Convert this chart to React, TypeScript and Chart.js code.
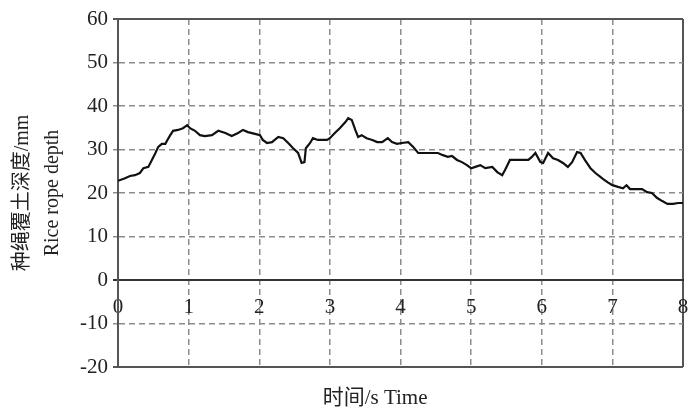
import React, { useEffect, useRef } from 'react';
import { Chart, registerables } from 'chart.js';

Chart.register(...registerables);

const timeS = [0, 0.1, 0.17, 0.24, 0.31, 0.36, 0.43, 0.48, 0.53, 0.57, 0.62, 0.67, 0.7, 0.74, 0.78, 0.85, 0.92, 0.98, 1.02, 1.09, 1.16, 1.23, 1.33, 1.42, 1.52, 1.61, 1.7, 1.77, 1.84, 1.94, 2.01, 2.05, 2.11, 2.18, 2.27, 2.34, 2.41, 2.48, 2.55, 2.6, 2.64, 2.66, 2.72, 2.76, 2.83, 2.96, 3.0, 3.07, 3.14, 3.22, 3.26, 3.31, 3.36, 3.4, 3.45, 3.52, 3.6, 3.67, 3.74, 3.82, 3.88, 3.95, 4.02, 4.11, 4.18, 4.25, 4.3, 4.53, 4.6, 4.67, 4.73, 4.8, 4.87, 4.94, 5.0, 5.06, 5.13, 5.2, 5.3, 5.37, 5.44, 5.48, 5.55, 5.81, 5.86, 5.91, 5.98, 6.02, 6.09, 6.16, 6.23, 6.3, 6.37, 6.43, 6.5, 6.55, 6.61, 6.69, 6.76, 6.83, 6.87, 6.93, 7.0, 7.08, 7.15, 7.2, 7.25, 7.42, 7.49, 7.56, 7.63, 7.7, 7.78, 7.86, 7.93, 8.0];
const depthMm = [22.8, 23.4, 23.9, 24.1, 24.6, 25.7, 26.0, 27.6, 29.2, 30.6, 31.3, 31.3, 32.2, 33.3, 34.3, 34.5, 34.9, 35.6, 34.9, 34.3, 33.3, 33.1, 33.3, 34.3, 33.8, 33.1, 33.8, 34.5, 34.0, 33.6, 33.3, 32.2, 31.5, 31.7, 32.9, 32.6, 31.5, 30.3, 29.2, 26.9, 27.1, 30.3, 31.5, 32.6, 32.2, 32.2, 32.6, 33.8, 34.9, 36.3, 37.2, 36.8, 34.5, 32.9, 33.3, 32.6, 32.2, 31.7, 31.7, 32.6, 31.7, 31.3, 31.5, 31.7, 30.6, 29.2, 29.2, 29.2, 28.7, 28.3, 28.5, 27.6, 27.1, 26.4, 25.7, 26.0, 26.4, 25.7, 26.0, 24.8, 24.1, 25.3, 27.6, 27.6, 28.3, 29.2, 27.1, 26.9, 29.2, 28.0, 27.6, 26.9, 26.0, 27.1, 29.4, 29.2, 27.6, 25.7, 24.6, 23.7, 23.2, 22.5, 21.8, 21.4, 21.1, 21.8, 20.9, 20.9, 20.2, 20.0, 18.9, 18.2, 17.5, 17.5, 17.7, 17.7];

const xMin = 0;
const xMax = 8;
const yMin = -20;
const yMax = 60;
const yTitleLines = ['种绳覆土深度/mm', 'Rice rope depth'];
const xTitleCn = '时间';
const xTitleEn = '/s Time';

const FONT = "'Liberation Serif', 'Noto Sans CJK SC', serif";
const GRID_GRAY = '#8c8c8c';
const FRAME = '#555555';

const xTitlePlugin = {
  id: 'xTitlePlugin',
  afterDraw(chart: any) {
    const { ctx, chartArea } = chart;
    ctx.save();
    ctx.fillStyle = '#222';
    ctx.textBaseline = 'middle';
    ctx.textAlign = 'left';
    const cnFont = `21px ${FONT}`;
    const enFont = `21px ${FONT}`;
    ctx.font = cnFont;
    const wCn = ctx.measureText(xTitleCn).width;
    ctx.font = enFont;
    const wEn = ctx.measureText(xTitleEn).width;
    const cx = chartArea.left + chartArea.width * 0.455;
    const y = chartArea.bottom + 31;
    const x0 = cx - (wCn + wEn) / 2;
    ctx.font = cnFont;
    ctx.fillText(xTitleCn, x0, y);
    ctx.font = enFont;
    ctx.fillText(xTitleEn, x0 + wCn, y);
    ctx.restore();
  },
};

export default function App() {
  const ref = useRef<HTMLCanvasElement | null>(null);
  useEffect(() => {
    if (!ref.current) return;
    const data = timeS.map((t, i) => ({ x: t, y: depthMm[i] }));
    const chart = new Chart(ref.current, {
      type: 'line',
      data: {
        datasets: [
          {
            data,
            borderColor: '#111',
            borderWidth: 2.2,
            pointRadius: 0,
            tension: 0,
            fill: false,
          },
        ],
      },
      plugins: [xTitlePlugin],
      options: {
        animation: false,
        responsive: false,
        layout: { padding: { top: 19, right: 11, bottom: 42, left: 0 } },
        plugins: { legend: { display: false }, tooltip: { enabled: false } },
        scales: {
          x: {
            type: 'linear',
            min: xMin,
            max: xMax,
            position: { y: 0 } as any,
            afterFit: (s: any) => {
              s.paddingLeft = 0;
              s.paddingRight = 0;
            },
            ticks: {
              stepSize: 1,
              padding: 15,
              color: '#222',
              font: { family: FONT, size: 21 },
            },
            grid: {
              drawTicks: false,
              color: (c: any) => (c.tick && (c.tick.value === xMin || c.tick.value === xMax) ? FRAME : GRID_GRAY),
              lineWidth: (c: any) => (c.tick && (c.tick.value === xMin || c.tick.value === xMax) ? 2 : 1.5),
            },
            border: {
              display: true,
              color: '#333',
              width: 2,
              dash: (c: any) => (c.tick && (c.tick.value === xMin || c.tick.value === xMax) ? [] : [6, 4]),
            },
          },
          y: {
            type: 'linear',
            min: yMin,
            max: yMax,
            afterFit: (s: any) => {
              s.width = 118;
            },
            ticks: {
              stepSize: 10,
              padding: 5,
              color: '#222',
              font: { family: FONT, size: 21 },
            },
            title: {
              display: true,
              text: yTitleLines,
              color: '#222',
              font: { family: FONT, size: 20, lineHeight: 1.5 },
              padding: { top: 8, bottom: 0 },
            },
            grid: {
              tickLength: 5,
              color: (c: any) => {
                const v = c.tick ? c.tick.value : null;
                if (v === 0) return '#333';
                if (v === yMin || v === yMax) return FRAME;
                return GRID_GRAY;
              },
              lineWidth: (c: any) => {
                const v = c.tick ? c.tick.value : null;
                if (v === 0 || v === yMin || v === yMax) return 2;
                return 1.5;
              },
            },
            border: {
              display: true,
              color: FRAME,
              width: 2,
              dash: (c: any) => {
                const v = c.tick ? c.tick.value : null;
                if (v === 0 || v === yMin || v === yMax) return [];
                return [6, 4];
              },
            },
          },
        },
      },
    });
    return () => chart.destroy();
  }, []);
  return (
    <div style={{ position: 'absolute', left: 0, top: 0, width: 694, height: 409, background: '#fff' }}>
      <canvas ref={ref} width={694} height={409} style={{ display: 'block' }} />
    </div>
  );
}
